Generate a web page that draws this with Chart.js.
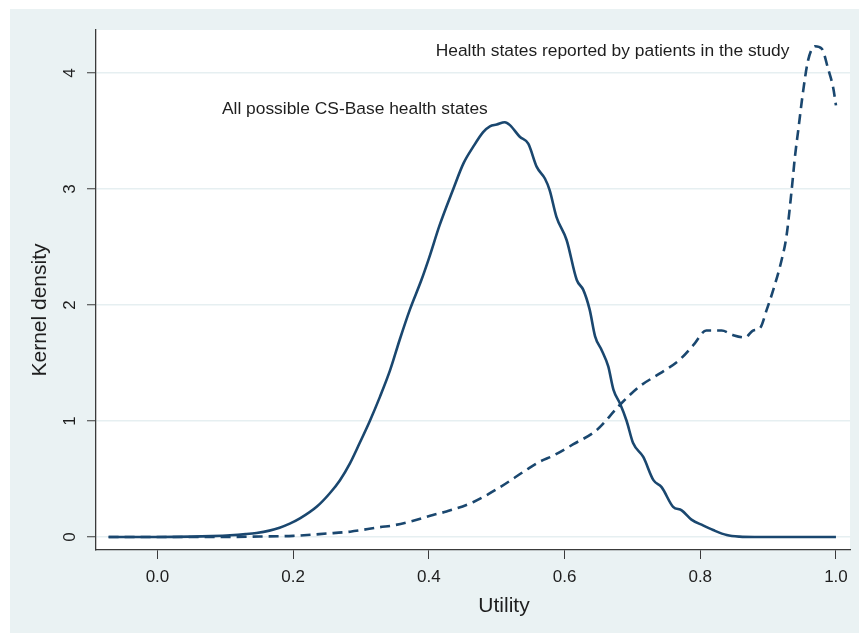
<!DOCTYPE html>
<html>
<head>
<meta charset="utf-8">
<script src="https://cdn.jsdelivr.net/npm/chart.js@4/dist/chart.umd.min.js"></script>
<style>
  html, body { margin: 0; padding: 0; background: #ffffff; }
  #wrap { width: 859px; height: 633px; }
</style>
</head>
<body>
<div id="wrap"><canvas id="c" width="859" height="633"></canvas></div>
<script>
// ---- data ----
const csBaseUtility = [-0.072, 0.0, 0.05, 0.08, 0.107, 0.13, 0.146, 0.165, 0.18, 0.195, 0.21, 0.2346, 0.254, 0.269, 0.2837, 0.298, 0.313, 0.328, 0.343, 0.357, 0.372, 0.389, 0.40, 0.416, 0.436, 0.451, 0.465, 0.48, 0.49, 0.50, 0.512, 0.5195, 0.534, 0.5465, 0.559, 0.571, 0.578, 0.588, 0.603, 0.618, 0.6276, 0.637, 0.645, 0.6547, 0.6644, 0.672, 0.6817, 0.6915, 0.701, 0.716, 0.731, 0.743, 0.76, 0.7726, 0.787, 0.804, 0.819, 0.839, 0.858, 0.88, 1.0];
const csBaseDensity = [0, 0, 0.003, 0.008, 0.015, 0.025, 0.035, 0.055, 0.08, 0.115, 0.16, 0.26, 0.377, 0.49, 0.635, 0.81, 1.0, 1.21, 1.44, 1.70, 1.96, 2.215, 2.40, 2.69, 3.0, 3.22, 3.36, 3.49, 3.54, 3.555, 3.575, 3.55, 3.45, 3.39, 3.19, 3.09, 2.99, 2.76, 2.56, 2.215, 2.13, 1.96, 1.73, 1.61, 1.47, 1.27, 1.15, 1.0, 0.81, 0.69, 0.49, 0.43, 0.26, 0.23, 0.15, 0.10, 0.06, 0.017, 0.003, 0, 0];

const patientUtility = [-0.072, 0.1, 0.15, 0.2, 0.25, 0.284, 0.328, 0.3475, 0.377, 0.406, 0.426, 0.465, 0.505, 0.544, 0.5637, 0.583, 0.613, 0.647, 0.6817, 0.711, 0.7406, 0.77, 0.79, 0.809, 0.8315, 0.8487, 0.866, 0.878, 0.888, 0.898, 0.9076, 0.92, 0.927, 0.9347, 0.9396, 0.9445, 0.9518, 0.959, 0.969, 0.979, 0.9887, 0.996, 1.0];
const patientDensity = [0, 0, 0.004, 0.01, 0.03, 0.046, 0.085, 0.10, 0.14, 0.19, 0.22, 0.30, 0.43, 0.58, 0.65, 0.70, 0.80, 0.92, 1.14, 1.30, 1.41, 1.53, 1.655, 1.78, 1.78, 1.74, 1.72, 1.78, 1.80, 1.96, 2.13, 2.39, 2.59, 2.99, 3.28, 3.51, 3.85, 4.11, 4.23, 4.21, 4.03, 3.87, 3.72];

const xTickValues = [0.0, 0.2, 0.4, 0.6, 0.8, 1.0];
const yTickValues = [0, 1, 2, 3, 4];

const xTitle = 'Utility';
const yTitle = 'Kernel density';
const csBaseLabel = 'All possible CS-Base health states';
const patientLabel = 'Health states reported by patients in the study';

// ---- styling ----
const NAVY = '#1A476F';
const OUTER = '#EAF2F3';
const GRID = '#E6EFF1';
const AXIS = '#3a3a3a';
const TEXT = '#1e1e1e';
const FONT = "'Liberation Sans', Arial, Helvetica, sans-serif";

const toPoints = (xs, ys) => xs.map((x, i) => ({ x: x, y: ys[i] }));

const bgPlugin = {
  id: 'bg',
  beforeDraw(chart) {
    const ctx = chart.ctx;
    const a = chart.chartArea;
    ctx.save();
    ctx.fillStyle = '#ffffff';
    ctx.fillRect(0, 0, chart.width, chart.height);
    ctx.fillStyle = OUTER;
    ctx.fillRect(10, 9, chart.width - 10, chart.height - 9);
    ctx.fillStyle = '#ffffff';
    ctx.fillRect(a.left, a.top, a.right - a.left, a.bottom - a.top);
    ctx.restore();
  },
  afterDraw(chart) {
    const ctx = chart.ctx;
    const xs = chart.scales.x, ys = chart.scales.y;
    ctx.save();
    ctx.fillStyle = TEXT;
    // in-plot labels
    ctx.font = '17.4px ' + FONT;
    ctx.textAlign = 'left';
    ctx.textBaseline = 'middle';
    ctx.fillText(csBaseLabel, xs.getPixelForValue(0.095), ys.getPixelForValue(3.69));
    ctx.fillText(patientLabel, xs.getPixelForValue(0.41), ys.getPixelForValue(4.19));
    // axis titles
    ctx.font = '21px ' + FONT;
    ctx.textAlign = 'center';
    ctx.fillText(xTitle, 504, 606);
    ctx.translate(40, 310);
    ctx.rotate(-Math.PI / 2);
    ctx.fillText(yTitle, 0, 0);
    ctx.restore();
  }
};

new Chart(document.getElementById('c'), {
  type: 'line',
  data: {
    datasets: [
      {
        label: csBaseLabel,
        data: toPoints(csBaseUtility, csBaseDensity),
        borderColor: NAVY,
        borderWidth: 2.6,
        pointRadius: 0,
        fill: false,
        cubicInterpolationMode: 'monotone'
      },
      {
        label: patientLabel,
        data: toPoints(patientUtility, patientDensity),
        borderColor: NAVY,
        borderWidth: 2.6,
        borderDash: [10, 6],
        pointRadius: 0,
        fill: false,
        cubicInterpolationMode: 'monotone'
      }
    ]
  },
  options: {
    responsive: false,
    animation: false,
    devicePixelRatio: 1,
    layout: { padding: { left: 0, right: 9, top: 30, bottom: 0 } },
    plugins: { legend: { display: false }, tooltip: { enabled: false } },
    scales: {
      x: {
        type: 'linear',
        min: -0.0906,
        max: 1.0207,
        afterBuildTicks(scale) { scale.ticks = xTickValues.map(v => ({ value: v })); },
        afterFit(scale) { scale.height = 83; },
        ticks: {
          callback: v => Number(v).toFixed(1),
          color: TEXT,
          font: { family: FONT, size: 17 },
          padding: 8,
          maxRotation: 0, minRotation: 0
        },
        grid: { display: true, drawOnChartArea: false, drawTicks: true, tickLength: 9, tickColor: AXIS, tickWidth: 1 },
        border: { display: true, color: AXIS, width: 1.3 },
        title: { display: false }
      },
      y: {
        type: 'linear',
        min: -0.112,
        max: 4.37,
        afterBuildTicks(scale) { scale.ticks = yTickValues.map(v => ({ value: v })); },
        afterFit(scale) { scale.width = 96; },
        ticks: {
          callback: v => String(v),
          color: TEXT,
          font: { family: FONT, size: 17 },
          padding: 12,
          minRotation: 90, maxRotation: 90,
          crossAlign: 'center'
        },
        grid: { display: true, drawOnChartArea: true, color: GRID, lineWidth: 1.5, drawTicks: true, tickLength: 9, tickColor: AXIS, tickWidth: 1 },
        border: { display: true, color: AXIS, width: 1.3 },
        title: { display: false }
      }
    }
  },
  plugins: [bgPlugin]
});
</script>
</body>
</html>
